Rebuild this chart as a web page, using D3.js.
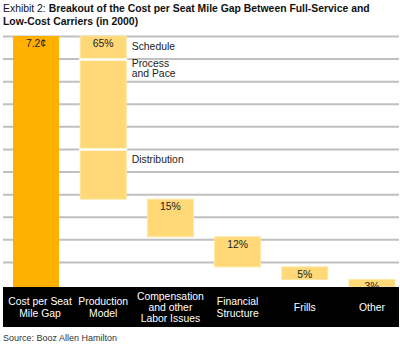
<!DOCTYPE html>
<html>
<head>
<meta charset="utf-8">
<script src="https://cdn.jsdelivr.net/npm/d3@7"></script>
<style>
	body { margin: 0; background: #fff; }
	svg { display: block; font-family: 'Liberation Sans', Arial, sans-serif; }
	.grid line { stroke: #c0c0c0; stroke-width: 2; }
	.grid .domain { display: none; }
	.x.axis .domain { display: none; }
</style>
</head>
<body>
<div id="chart"></div>
<script>

var categories = ['Cost per Seat Mile Gap', 'Production Model', 'Compensation and other Labor Issues', 'Financial Structure', 'Frills', 'Other']
var categoryLines = [['Cost per Seat', 'Mile Gap'], ['Production', 'Model'], ['Compensation', 'and other', 'Labor Issues'], ['Financial', 'Structure'], ['Frills'], ['Other']]
var shares = [100, 65, 15, 12, 5, 3]
var valueLabels = ['7.2\u00a2', '65%', '15%', '12%', '5%', '3%']

var segmentNames = [['Schedule'], ['Process', 'and Pace'], ['Distribution']]
var segmentShares = [9.4, 35.8, 19.8]

var gridTicks = [10, 19, 28, 37, 46, 55, 64, 73, 82, 91, 100]

function drawChart(container) {
	var width = 400
	var height = 346
	var fs = '10.4px'

	var plot = { top: 36, bottom: 287, left: 3, right: 399 }

	var svg = d3.select(container).append('svg')
		.attr('width', width)
		.attr('height', height)

	// title
	var title = svg.append('text')
		.attr('x', 3)
		.attr('y', 12.3)
		.style('font-size', fs)
		.style('fill', '#111')
	title.append('tspan').text('Exhibit 2: ')
	title.append('tspan').style('font-weight', 'bold')
		.text('Breakout of the Cost per Seat Mile Gap Between Full-Service and')
	svg.append('text')
		.attr('x', 3)
		.attr('y', 24.6)
		.style('font-size', fs)
		.style('font-weight', 'bold')
		.style('fill', '#111')
		.text('Low-Cost Carriers (in 2000)')

	var yScale = d3.scaleLinear()
		.domain([0, 100])
		.range([plot.bottom, plot.top])

	var xScale = d3.scaleBand()
		.domain(categories)
		.range([2.4, 405.6])
		.paddingInner(0.315)
		.paddingOuter(0.1575)

	var yGrid = d3.axisLeft(yScale)
		.tickValues(gridTicks)
		.tickSizeInner(-(plot.right - plot.left))
		.tickSizeOuter(0)
		.tickFormat('')

	svg.append('g')
		.attr('class', 'grid')
		.attr('transform', 'translate(' + plot.left + ',0)')
		.call(yGrid)

	// waterfall: first bar is the whole gap, the rest step down from it
	var bars = []
	var level = shares[0]
	shares.forEach(function(v, i) {
		if (i == 0) {
			bars.push({ cat: categories[i], top: v, bottom: 0, label: valueLabels[i] })
		} else {
			bars.push({ cat: categories[i], top: level, bottom: level - v, label: valueLabels[i] })
			level = level - v
		}
	})

	var chart = svg.append('g')

	chart.selectAll('rect.bar').data(bars)
		.enter().append('rect')
			.attr('class', 'bar')
			.attr('x', function(d) { return xScale(d.cat) })
			.attr('width', xScale.bandwidth())
			.attr('y', function(d) { return yScale(d.top) })
			.attr('height', function(d) { return yScale(d.bottom) - yScale(d.top) })
			.attr('fill', function(d, i) { return i == 0 ? '#ffb000' : '#ffd877' })
			.attr('stroke', function(d, i) { return i == 0 ? 'none' : '#ffe6a3' })
			.attr('stroke-width', 1)

	// production model sub-segments
	var segs = []
	var segTop = shares[0]
	segmentShares.forEach(function(v, i) {
		segs.push({ names: segmentNames[i], top: segTop, bottom: segTop - v })
		segTop = segTop - v
	})
	var pm = categories[1]

	chart.selectAll('line.sep').data(segs.slice(1))
		.enter().append('line')
			.attr('class', 'sep')
			.attr('x1', xScale(pm) - 1)
			.attr('x2', xScale(pm) + xScale.bandwidth() + 1)
			.attr('y1', function(d) { return yScale(d.top) })
			.attr('y2', function(d) { return yScale(d.top) })
			.attr('stroke', '#fff')
			.attr('stroke-width', 2.5)

	var segLabels = chart.selectAll('text.seg').data(segs)
		.enter().append('text')
			.attr('class', 'seg')
			.attr('x', xScale(pm) + xScale.bandwidth() + 5.5)
			.attr('y', function(d) { return yScale(d.top) + (d.names.length > 1 ? 7.5 : 13.5) })
			.style('font-size', fs)
			.style('fill', '#222')
	segLabels.selectAll('tspan').data(function(d) { return d.names })
		.enter().append('tspan')
			.attr('x', xScale(pm) + xScale.bandwidth() + 5.5)
			.attr('dy', function(d, i) { return i == 0 ? 0 : 10.2 })
			.text(function(d) { return d })

	chart.selectAll('text.val').data(bars)
		.enter().append('text')
			.attr('class', 'val')
			.attr('x', function(d) { return xScale(d.cat) + xScale.bandwidth() / 2 })
			.attr('y', function(d) { return yScale(d.top) + 11 })
			.attr('text-anchor', 'middle')
			.style('font-size', fs)
			.style('fill', '#222')
			.text(function(d) { return d.label })

	// black category band
	svg.append('rect')
		.attr('x', plot.left)
		.attr('y', plot.bottom)
		.attr('width', plot.right - plot.left)
		.attr('height', 40)
		.attr('fill', '#000')

	var xAxis = d3.axisBottom(xScale)
		.tickSize(0)
		.tickFormat('')

	var xg = svg.append('g')
		.attr('class', 'x axis')
		.attr('transform', 'translate(0,' + plot.bottom + ')')
		.call(xAxis)

	xg.selectAll('.tick text').remove()
	xg.selectAll('.tick').each(function(d, i) {
		var lines = categoryLines[i]
		var t = d3.select(this).append('text')
			.attr('text-anchor', 'middle')
			.attr('transform', i == 0 ? 'translate(4,0)' : null)
			.style('font-size', fs)
			.style('fill', '#fff')
		lines.forEach(function(s, j) {
			t.append('tspan')
				.attr('x', 0)
				.attr('y', 24 + (j - (lines.length - 1) / 2) * 11.2)
				.text(s)
		})
	})

	svg.append('text')
		.attr('x', 3)
		.attr('y', 341)
		.style('font-size', '9px')
		.style('fill', '#333')
		.text('Source: Booz Allen Hamilton')
}

drawChart(document.getElementById('chart'))
</script>
</body>
</html>
